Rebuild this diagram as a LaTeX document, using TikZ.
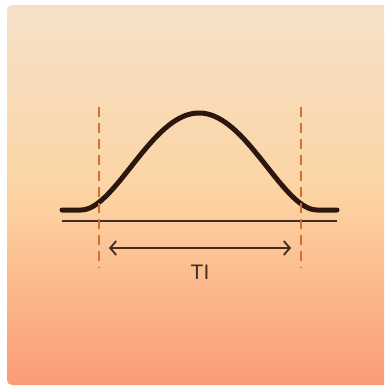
\documentclass[tikz,border=0pt]{standalone}
\usepackage{fontspec}
\setmainfont{Liberation Sans}
\usetikzlibrary{arrows.meta}
\definecolor{bgtop}{RGB}{245,225,201}
\definecolor{bgmid}{RGB}{252,212,162}
\definecolor{bgbot}{RGB}{251,155,118}
\definecolor{ink}{RGB}{45,22,14}
\definecolor{dashc}{RGB}{212,110,55}
\tikzset{
  curveline/.style={ink, line width=5pt, line cap=round, line join=round},
  baseline/.style={ink!90, line width=2pt},
  guide/.style={dashc, line width=1.7pt, dash pattern=on 10pt off 6pt},
  spanarrow/.style={ink!90, line width=1.8pt, {Straight Barb[length=6pt,width=14pt,line width=1.8pt]}-{Straight Barb[length=6pt,width=14pt,line width=1.8pt]}},
  lbl/.style={text=ink!90, font=\fontsize{21}{21}\selectfont, inner sep=0pt}
}
\begin{document}
\begin{tikzpicture}[x=1pt,y=-1pt]
\useasboundingbox (0,0) rectangle (384,388);
\clip (0,0) rectangle (384,388);
\fill[white] (0,0) rectangle (384,388);
\shade[top color=bgtop, bottom color=bgbot, middle color=bgmid, rounded corners=5pt]
  (7,5) rectangle (395,385);
% coordinates
\coordinate (L) at (62,210);
\coordinate (R) at (337,210);
\coordinate (bl) at (62,221);
\coordinate (br) at (337,221);
\coordinate (dlt) at (99,107);
\coordinate (dlb) at (99,268);
\coordinate (drt) at (301,107);
\coordinate (drb) at (301,268);
\coordinate (al) at (109,248);
\coordinate (ar) at (291,248);
% curve
\draw[curveline] (L) -- (81,210)
  plot[domain=-1:1, samples=101, smooth] ({199+118*\x},{210-97*(1-\x*\x)^2})
  -- (R);
% baseline
\draw[baseline] (bl) -- (br);
% dashed guides
\draw[guide] (dlt) -- (dlb);
\draw[guide] (drt) -- (drb);
% arrow
\draw[spanarrow] (al) -- (ar);
\node[lbl] (ti) at (200,272) {TI};
\end{tikzpicture}
\end{document}
